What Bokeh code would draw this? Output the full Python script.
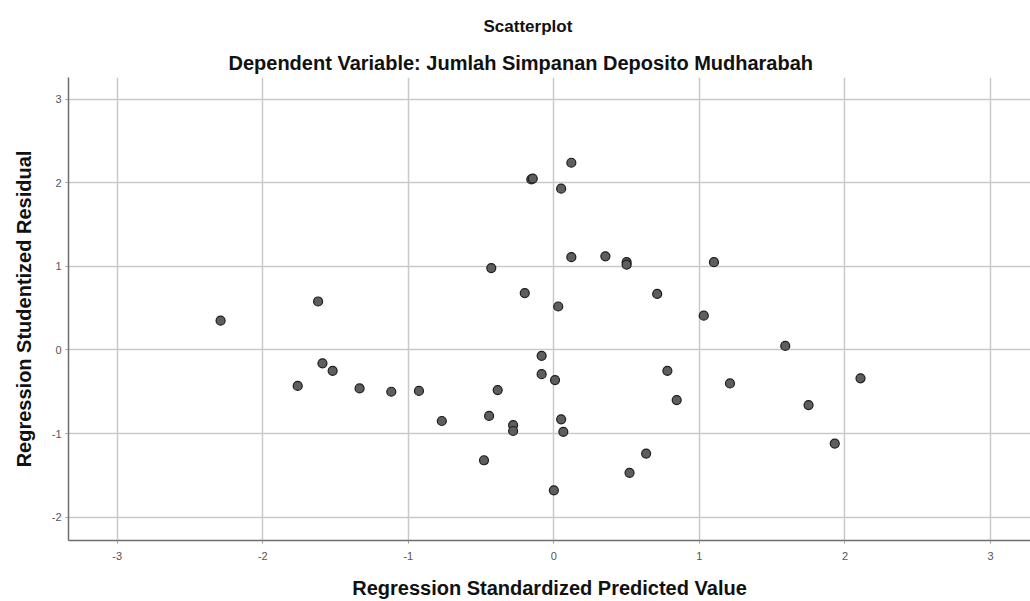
from bokeh.plotting import figure
from bokeh.models import Range1d, FixedTicker, Title, ColumnDataSource
from bokeh.embed import file_html
from bokeh.resources import INLINE

predicted = [-2.29, -1.62, -1.59, -1.52, -1.76, -1.335, -1.117, -0.927, -0.77, -0.445,
             -0.386, -0.28, -0.28, -0.48, -0.43, -0.20, -0.155, -0.145, 0.12, 0.05,
             0.12, 0.354, 0.50, 0.50, 1.10, 0.71, 0.03, 1.03, -0.084, -0.084,
             0.008, 0.05, 0.065, 0.0, 1.59, 0.78, 1.21, 2.107, 0.844, 1.75,
             0.634, 0.52, 1.93]
residual = [0.35, 0.58, -0.16, -0.25, -0.43, -0.46, -0.50, -0.49, -0.85, -0.79,
            -0.48, -0.90, -0.97, -1.32, 0.98, 0.68, 2.04, 2.05, 2.24, 1.93,
            1.11, 1.12, 1.05, 1.02, 1.05, 0.67, 0.52, 0.41, -0.07, -0.29,
            -0.36, -0.83, -0.98, -1.68, 0.048, -0.25, -0.40, -0.34, -0.60, -0.66,
            -1.24, -1.47, -1.12]
x_ticks = [-3, -2, -1, 0, 1, 2, 3]
x_tick_labels = ["-3", "-2", "-1", "0", "1", "2", "3"]
y_ticks = [-2, -1, 0, 1, 2, 3]
y_tick_labels = ["-2", "-1", "0", "1", "2", "3"]

FONT = "Liberation Sans"

p = figure(width=1030, height=601, output_backend="svg", toolbar_location=None,
           x_range=Range1d(-3.335, 3.275), y_range=Range1d(-2.28, 3.26),
           min_border_left=68, min_border_right=0, min_border_top=77, min_border_bottom=61)
p.outline_line_color = None
p.background_fill_color = "white"
p.border_fill_color = "white"

src = ColumnDataSource(dict(x=predicted, y=residual))
p.scatter("x", "y", source=src, size=9, fill_color="#5e5e5e", line_color="#1e1e1e", line_width=1.2)

for ax, ticks, labels in ((p.xaxis[0], x_ticks, x_tick_labels), (p.yaxis[0], y_ticks, y_tick_labels)):
    ax.ticker = FixedTicker(ticks=ticks)
    ax.major_label_overrides = {t: l for t, l in zip(ticks, labels)}
    ax.axis_line_color = "#6e6e6e"
    ax.axis_line_width = 1.5
    ax.major_tick_line_color = "#9a9a9a"
    ax.major_tick_out = 3
    ax.major_tick_in = 0
    ax.minor_tick_line_color = None
    ax.major_label_text_font = FONT
    ax.major_label_text_font_size = "11px"
    ax.major_label_text_color = "#555555"
    ax.axis_label_text_font = FONT
    ax.axis_label_text_font_style = "bold"
    ax.axis_label_text_font_size = "20px"
    ax.axis_label_text_color = "#111111"

p.xaxis.axis_label = "Regression Standardized Predicted Value"
p.xaxis.major_label_standoff = 8
p.xaxis.axis_label_standoff = 14
p.yaxis.axis_label = "Regression Studentized Residual"
p.yaxis.major_label_standoff = 4
p.yaxis.axis_label_standoff = 14

p.xgrid.ticker = FixedTicker(ticks=x_ticks)
p.ygrid.ticker = FixedTicker(ticks=y_ticks)
p.grid.grid_line_color = "#c9c9c9"
p.grid.grid_line_width = 1.5

sub = Title(text="Dependent Variable: Jumlah Simpanan Deposito Mudharabah", align="left",
            offset=160, text_font=FONT, text_font_size="20px", text_font_style="bold",
            text_color="#111111", standoff=8)
main = Title(text="Scatterplot", align="left", offset=415, text_font=FONT, text_font_size="17px",
             text_font_style="bold", text_color="#111111", standoff=20)
p.add_layout(sub, "above")
p.add_layout(main, "above")

open("out.html", "w").write(file_html(p, INLINE))
